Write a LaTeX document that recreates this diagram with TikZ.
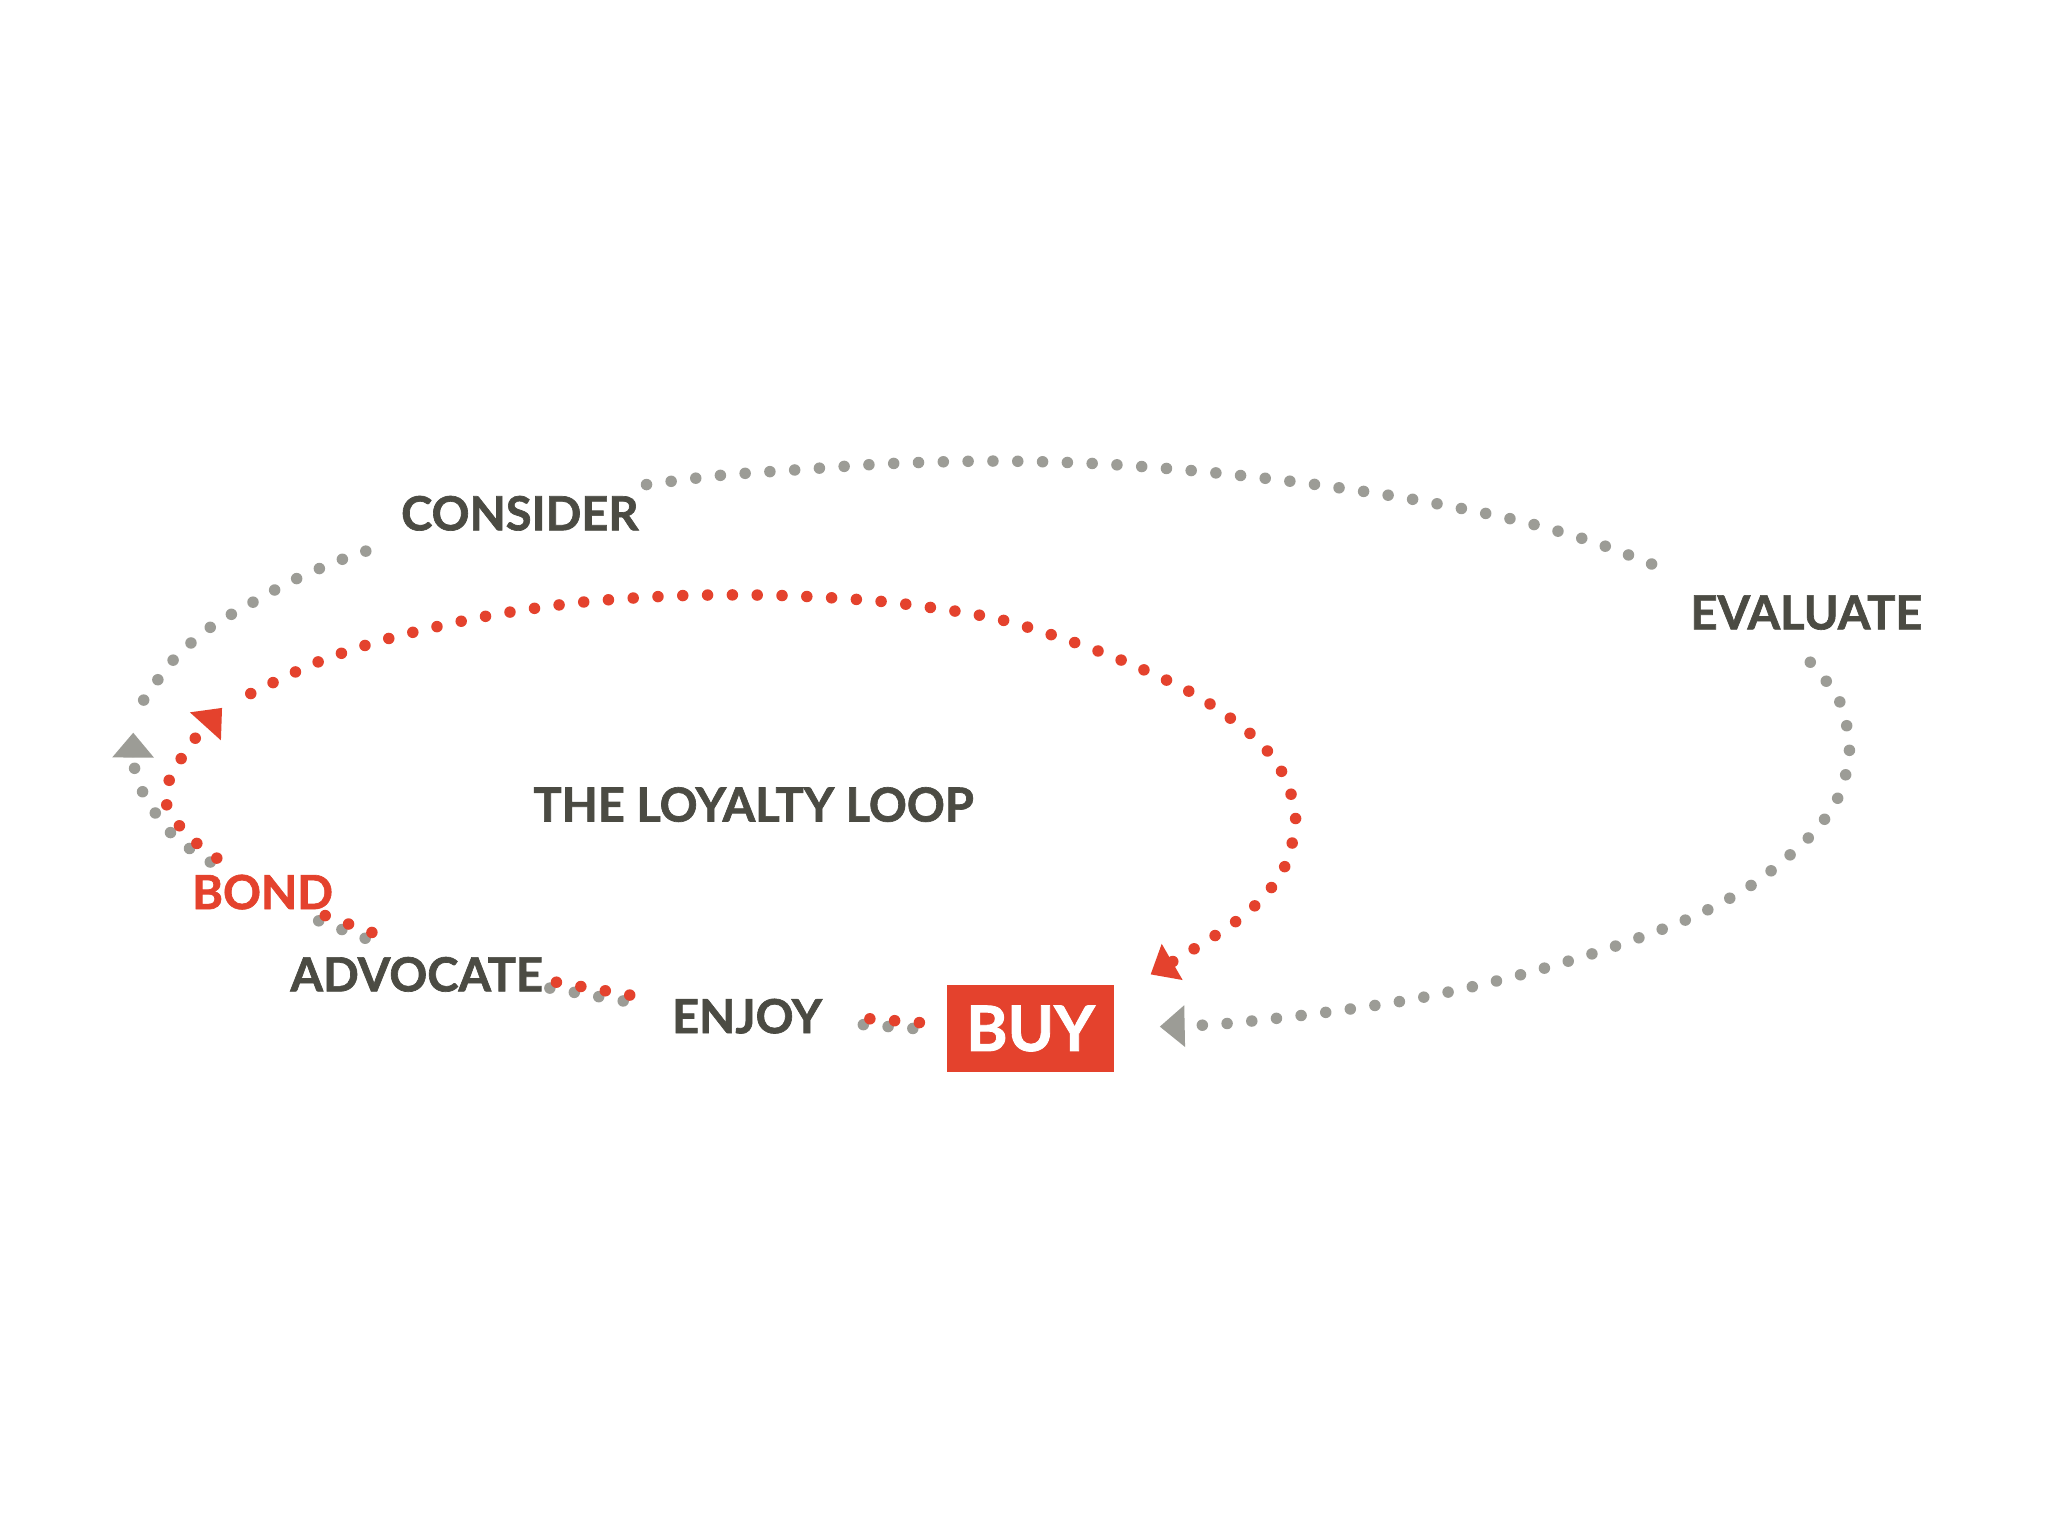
\documentclass[tikz,border=0pt]{standalone}
\usepackage{fontspec}
\setmainfont{Lato}[BoldFeatures={FakeBold=1.4}]
\usetikzlibrary{arrows.meta,calc}
\definecolor{txt}{HTML}{4B4B43}
\definecolor{lred}{HTML}{E4422D}
\definecolor{lgray}{HTML}{9C9C96}
\begin{document}
\begin{tikzpicture}[x=0.5pt,y=-0.5pt,
  lbl/.style={font=\fontsize{18}{18}\selectfont\bfseries, text=txt, inner sep=0pt},
  dotline/.style={line width=4.4pt, line cap=round, dash pattern=on 0pt off 9.5pt},
  graydot/.style={dotline, draw=lgray},
  reddot/.style={dotline, draw=lred},
  tipped/.style={-{Triangle[length=9.5pt,width=16pt,line width=0pt]}}
]
\useasboundingbox[fill=white] (0,0) rectangle (1568,1176);

% labels
\node[lbl] (consider) at (398,393) {CONSIDER};
\node[lbl] (evaluate) at (1383,469) {EVALUATE};
\node[lbl] (loop) at (577,616) {THE LOYALTY LOOP};
\node[lbl, text=lred] (bond) at (201,683) {BOND};
\node[lbl] (advocate) at (319,746) {ADVOCATE};
\node[lbl] (enjoy) at (572,778) {ENJOY};
\node[fill=lred, text=white, minimum width=64pt, minimum height=33.5pt, inner sep=0pt,
      font=\fontsize{24}{24}\selectfont\bfseries] (buy) at (789,787.5) {BUY};

% route coordinates
\coordinate (gA0) at (161,660);
\coordinate (gA1) at (102,561);
\coordinate (gB0) at (110,536);
\coordinate (gB1) at (295,417);
\coordinate (gC0) at (495,371);
\coordinate (gC1) at (1275,436);
\coordinate (gD0) at (1386,507);
\coordinate (gD1) at (888,786);
\coordinate (rA0) at (166,657);
\coordinate (rA1) at (170,542);
\coordinate (rB0) at (192,531);
\coordinate (rB1) at (881,746);

% gray outer loop
\draw[graydot, tipped] plot[smooth] coordinates {(gA0) (147,651) (132,639) (120,624) (110,608) (103,588) (gA1)};
\draw[graydot] plot[smooth] coordinates {(gB0) (132,506) (160,481) (192,462) (225,444) (260,429) (gB1)};
\draw[graydot] plot[smooth] coordinates {(gC0) (551,364) (606,360) (680,355) (760,353) (840,355) (920,361) (1000,370) (1080,382) (1160,398) (1220,415) (gC1)};
\draw[graydot, tipped] plot[smooth] coordinates {(gD0) (1408,536) (1416,573) (1408,609) (1387,639) (1345,675) (1296,702) (1226,728) (1154,749) (1082,765) (1008,776) (935,784) (gD1)};

% red loyalty loop
\draw[reddot, tipped] plot[smooth] coordinates {(rA0) (151,646) (138,633) (128,618) (129,599) (138,582) (148,567) (rA1)};
\draw[reddot, tipped] plot[smooth] coordinates {(rB0) (243,507) (297,489) (371,472) (446,461) (522,456) (600,456) (680,461) (760,473) (820,491) (867,509) (917,533) (961,565) (983,594) (992,628) (982,667) (957,697) (923,721) (rB1)};

% short links between stages
\draw[graydot] (244,705) -- (280,718.5);
\draw[reddot] (249,701) -- (285,714);
\draw[graydot] (421,756.5) -- (478,766.5);
\draw[reddot] (426,752) -- (483,762);
\draw[graydot] (661,784.5) -- (700,787.5);
\draw[reddot] (666,780) -- (705,783);
\end{tikzpicture}
\end{document}
